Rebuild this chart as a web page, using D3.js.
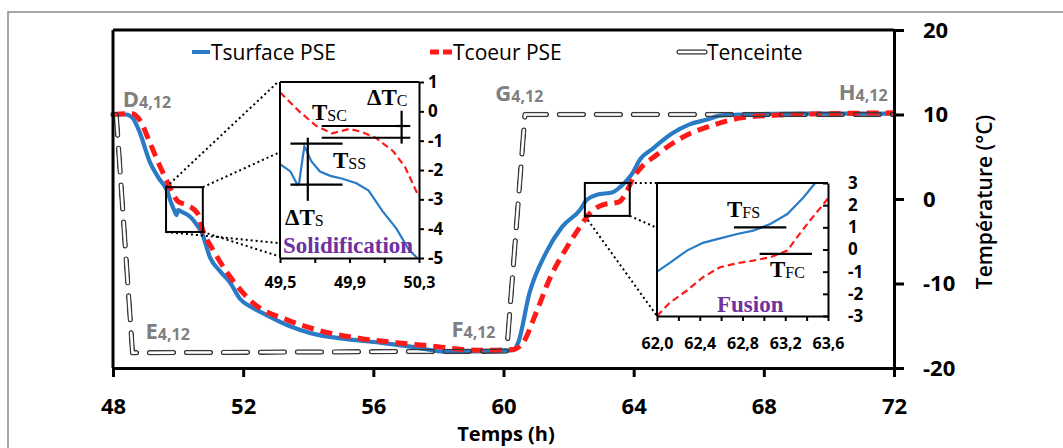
<!DOCTYPE html>
<html><head><meta charset="utf-8">
<script src="https://cdn.jsdelivr.net/npm/d3@7"></script>
<style>
body{margin:0;background:#fff;}
svg{display:block;}
</style></head>
<body>
<svg id="c" width="1063" height="448"></svg>
<script>
// ---- data ----
const surfH = [48.0,48.4,48.6,48.83,49.14,49.4,49.66,49.8,49.9,49.95,50.0,50.1,50.37,50.6,50.73,50.98,51.3,51.6,51.9,52.3,52.7,53.4,54.1,55.0,56.2,57.2,58.26,59.3,60.3,60.45,60.8,61.3,61.8,62.35,62.56,62.87,63.36,63.58,63.79,63.97,64.2,64.6,65.2,65.7,66.25,66.7,67.5,69,72];
const surfT = [10,10,9.6,7.8,4.3,2.5,1.0,-0.6,-1.5,-1.9,-1.3,-1.5,-2.1,-3.2,-4.0,-6.9,-8.6,-9.9,-11.8,-12.9,-13.7,-15.0,-15.9,-16.5,-17.0,-17.5,-18.1,-18.0,-17.9,-17.0,-11.1,-6.4,-3.3,-1.3,-0.1,0.5,0.8,1.4,2.2,3.1,4.7,6.0,7.8,8.8,9.4,9.9,10.0,10.1,10.1];
const coeurH = [48.0,48.4,48.6,48.83,49.14,49.5,49.75,50.0,50.27,50.6,50.76,51.07,51.6,52.3,53.35,54.7,55.6,56.7,57.8,58.75,59.5,60.3,60.6,61.0,61.4,61.95,62.35,62.65,63.05,63.55,63.8,64.0,64.2,64.7,65.2,65.7,66.25,67.3,68.3,70,72];
const coeurT = [10,10.1,10.1,9.3,6.6,3.4,1.4,-0.3,-0.7,-1.7,-3.7,-6.0,-9.2,-12.3,-14.3,-15.9,-16.5,-17.0,-17.4,-17.8,-17.9,-17.8,-17.0,-13.5,-9.6,-5.7,-3.3,-1.7,-0.7,-0.35,1.0,2.6,3.6,5.2,6.6,7.7,8.5,9.6,9.9,10.1,10.2];
const encH = [48.0,48.1,48.6,60.1,60.66,72];
const encT = [10,10,-18.2,-18.0,10,10];

// inset solidification
const sSurfH = [49.5,49.56,49.6,49.61,49.63,49.64,49.65,49.68,49.73,49.79,49.86,49.94,50.01,50.09,50.17,50.24,50.29];
const sSurfT = [-1.8,-2.05,-2.5,-2.45,-1.6,-1.2,-1.3,-1.7,-2.05,-2.2,-2.3,-2.45,-2.7,-3.4,-4.0,-4.7,-5.0];
const sCoeurH = [49.5,49.61,49.71,49.8,49.9,49.97,50.05,50.15,50.22,50.29];
const sCoeurT = [0.65,0.0,-0.5,-0.75,-0.6,-0.7,-0.9,-1.35,-1.9,-2.8];
// inset fusion
const fSurfH = [62.0,62.12,62.28,62.43,62.59,62.75,62.9,63.06,63.22,63.37,63.48];
const fSurfT = [-1.0,-0.6,-0.05,0.3,0.5,0.7,0.85,1.15,1.6,2.35,3.0];
const fCoeurH = [62.0,62.12,62.28,62.43,62.59,62.75,62.9,63.06,63.22,63.31,63.43,63.6];
const fCoeurT = [-3,-2.4,-1.85,-1.25,-0.8,-0.62,-0.5,-0.35,-0.05,0.55,1.3,2.3];

const xTicks = [48,52,56,60,64,68,72];
const yTicks = [-20,-10,0,10,20];
const sXTicks = [49.5,49.7,49.9,50.1,50.3];
const sXLabels = [49.5,49.9,50.3];
const sYTicks = [-5,-4,-3,-2,-1,0,1];
const fXTicks = [62.0,62.2,62.4,62.6,62.8,63.0,63.2,63.4,63.6];
const fXLabels = [62.0,62.4,62.8,63.2,63.6];
const fYTicks = [-3,-2,-1,0,1,2,3];
const seriesNames = ["Tsurface PSE","Tcoeur PSE","Tenceinte"];

// ---- drawing ----
const svg = d3.select("#c");
const SANS = "'Open Sans', 'DejaVu Sans', sans-serif";
const SERIF = "'Liberation Serif', 'Times New Roman', serif";
const BLUE = "#2a7bc6", RED = "#ff1a1a", PURPLE = "#7030a0", GRAY = "#7f7f7f";
const fmtC = d => d3.format(".1f")(d).replace(".", ",").replace("\u2212","-");
const fmtI = d => String(d);

svg.append("rect").attr("x",8).attr("y",12).attr("width",1100).attr("height",500)
  .attr("fill","none").attr("stroke","#8a8a8a").attr("stroke-width",1.5);

// Mask defs for double-line Tenceinte
const defs = svg.append("defs");
let maskId = 0;
function doubleLine(g, d, dash){
  const id = "m"+(maskId++);
  const m = defs.append("mask").attr("id",id).attr("maskUnits","userSpaceOnUse")
    .attr("x",0).attr("y",0).attr("width",1063).attr("height",448);
  m.append("path").attr("d",d).attr("fill","none").attr("stroke","#fff").attr("stroke-width",5.5)
    .attr("stroke-dasharray",dash).attr("stroke-linecap","round").attr("stroke-linejoin","round");
  m.append("path").attr("d",d).attr("fill","none").attr("stroke","#000").attr("stroke-width",2.6)
    .attr("stroke-dasharray",dash).attr("stroke-linecap","round").attr("stroke-linejoin","round");
  g.append("path").attr("d",d).attr("fill","none").attr("stroke","#3a3a3a").attr("stroke-width",5.5)
    .attr("stroke-dasharray",dash).attr("stroke-linecap","round").attr("stroke-linejoin","round")
    .attr("mask","url(#"+id+")");
}

const x = d3.scaleLinear().domain([48,72]).range([113,894]);
const y = d3.scaleLinear().domain([-20,20]).range([368,30]);

const zip = (a,b) => a.map((v,i)=>[v,b[i]]);
const lineMain = d3.line().x(d=>x(d[0])).y(d=>y(d[1])).curve(d3.curveMonotoneX);
const lineLin = d3.line().x(d=>x(d[0])).y(d=>y(d[1]));

// series
svg.append("path").attr("d",lineMain(zip(surfH,surfT))).attr("fill","none")
  .attr("stroke",BLUE).attr("stroke-width",4.2).attr("stroke-linejoin","round");
svg.append("path").attr("d",lineMain(zip(coeurH,coeurT))).attr("fill","none")
  .attr("stroke",RED).attr("stroke-width",5).attr("stroke-dasharray","12,7");
doubleLine(svg, lineLin(zip(encH,encT)), "24,13");

// frame
svg.append("line").attr("x1",x(48)).attr("x2",x(72)).attr("y1",y(20)).attr("y2",y(20))
  .attr("stroke","#000").attr("stroke-width",3);
svg.append("line").attr("x1",x(48)).attr("x2",x(48)).attr("y1",y(20)).attr("y2",y(-20))
  .attr("stroke","#000").attr("stroke-width",3);

const xa = svg.append("g").attr("transform",`translate(0,${y(-20)})`)
  .call(d3.axisBottom(x).tickValues(xTicks).tickSize(9).tickSizeOuter(0).tickFormat(fmtI));
xa.select(".domain").attr("stroke-width",3);
xa.selectAll(".tick line").attr("stroke-width",3);
xa.selectAll("text").attr("y",46).attr("dy",null).attr("font-family",SANS).attr("font-weight","bold")
  .attr("font-size",22).attr("fill","#000");

const ya = svg.append("g").attr("transform",`translate(${x(72)},0)`)
  .call(d3.axisRight(y).tickValues(yTicks).tickSize(10).tickSizeOuter(0).tickPadding(19).tickFormat(fmtI));
ya.select(".domain").attr("stroke-width",3);
ya.selectAll(".tick line").attr("stroke-width",3);
ya.selectAll("text").attr("font-family",SANS).attr("font-weight","bold").attr("font-size",22).attr("fill","#000");

svg.append("text").attr("x",506).attr("y",441).attr("text-anchor","middle")
  .attr("font-family",SANS).attr("font-weight","bold").attr("font-size",20).text("Temps (h)");
svg.append("text").attr("transform","translate(992,202) rotate(-90)").attr("text-anchor","middle")
  .attr("font-family",SANS).attr("font-weight",600).attr("font-size",21).text("Température (°C)");

// legend
const lg = svg.append("g");
lg.append("line").attr("x1",192).attr("x2",210).attr("y1",52).attr("y2",52).attr("stroke",BLUE).attr("stroke-width",4);
lg.append("text").attr("x",211).attr("y",60).attr("font-family",SANS).attr("font-size",21).text(seriesNames[0]);
lg.append("line").attr("x1",430).attr("x2",452).attr("y1",52).attr("y2",52).attr("stroke",RED).attr("stroke-width",5).attr("stroke-dasharray","9,4");
lg.append("text").attr("x",453).attr("y",60).attr("font-family",SANS).attr("font-size",21).text(seriesNames[1]);
doubleLine(lg, "M679,52L705,52", "26,10");
lg.append("text").attr("x",707).attr("y",60).attr("font-family",SANS).attr("font-size",21).text(seriesNames[2]);

// point labels
function ptLabel(letter, h, t){
  const tx = svg.append("text").attr("x",x(h)).attr("y",y(t)).attr("font-family",SANS)
    .attr("font-weight","bold").attr("fill",GRAY).attr("font-size",22);
  tx.append("tspan").text(letter);
  tx.append("tspan").attr("font-size",16).attr("dy",1).text("4,12");
}
ptLabel("D",48.3,10.85);
ptLabel("E",49.0,-16.6);
ptLabel("F",58.4,-16.3);
ptLabel("G",59.75,11.6);
ptLabel("H",70.3,11.7);

// zoom boxes on main chart
const boxS = {h0:49.63,h1:50.76,t0:-3.9,t1:1.4};
const boxF = {h0:62.5,h1:63.88,t0:-2.0,t1:1.9};
function drawBox(b){
  svg.append("rect").attr("x",x(b.h0)).attr("y",y(b.t1)).attr("width",x(b.h1)-x(b.h0))
    .attr("height",y(b.t0)-y(b.t1)).attr("fill","none").attr("stroke","#000").attr("stroke-width",2);
}
drawBox(boxS); drawBox(boxF);
function dotted(x1,y1,x2,y2){
  svg.append("line").attr("x1",x1).attr("y1",y1).attr("x2",x2).attr("y2",y2)
    .attr("stroke","#000").attr("stroke-width",2).attr("stroke-dasharray","2,3");
}

// ---- inset solidification ----
const sx = d3.scaleLinear().domain([49.5,50.3]).range([280,419]);
const sy = d3.scaleLinear().domain([-5,1]).range([258,82]);
dotted(x(boxS.h0),y(boxS.t1),sx(49.5)-2,sy(1));
dotted(x(boxS.h1),y(boxS.t1),sx(49.5)-2,153);
dotted(x(boxS.h0),y(boxS.t0),sx(49.5)-2,243);
dotted(x(boxS.h1),y(boxS.t0),sx(49.5)-2,256);

const si = svg.append("g");
si.append("rect").attr("x",sx(49.5)).attr("y",sy(1)).attr("width",sx(50.3)-sx(49.5)).attr("height",sy(-5)-sy(1)).attr("fill","#fff");
const sl = d3.line().x(d=>sx(d[0])).y(d=>sy(d[1]));
si.append("path").attr("d",sl(zip(sCoeurH,sCoeurT))).attr("fill","none").attr("stroke",RED).attr("stroke-width",2.2).attr("stroke-dasharray","7,4");
si.append("path").attr("d",sl(zip(sSurfH,sSurfT))).attr("fill","none").attr("stroke",BLUE).attr("stroke-width",2.2);
si.append("line").attr("x1",sx(49.5)).attr("x2",sx(50.3)).attr("y1",sy(1)).attr("y2",sy(1)).attr("stroke","#000").attr("stroke-width",2);
si.append("line").attr("x1",sx(49.5)).attr("x2",sx(49.5)).attr("y1",sy(1)).attr("y2",sy(-5)).attr("stroke","#000").attr("stroke-width",2);
const sxa = si.append("g").attr("transform",`translate(0,${sy(-5)})`)
  .call(d3.axisBottom(sx).tickValues(sXTicks).tickSize(5).tickSizeOuter(0).tickFormat(d=>sXLabels.some(v=>Math.abs(v-d)<1e-6)?fmtC(d):""));
sxa.select(".domain").attr("stroke-width",2);
sxa.selectAll(".tick line").attr("stroke-width",2);
sxa.selectAll("text").attr("y",30).attr("dy",null).attr("font-family",SANS).attr("font-weight","bold").attr("font-size",16).attr("fill","#000");
const sya = si.append("g").attr("transform",`translate(${sx(50.3)},0)`)
  .call(d3.axisRight(sy).tickValues(sYTicks).tickSize(5).tickSizeOuter(0).tickPadding(4).tickFormat(fmtI));
sya.select(".domain").attr("stroke-width",2);
sya.selectAll(".tick line").attr("stroke-width",2);
sya.selectAll("text").attr("font-family",SANS).attr("font-weight","bold").attr("font-size",17).attr("fill","#000");

function seg(g,x1,y1,x2,y2){ g.append("line").attr("x1",x1).attr("y1",y1).attr("x2",x2).attr("y2",y2).attr("stroke","#000").attr("stroke-width",2.2); }
// ΔTc
seg(si,sx(49.74),sy(-0.5),sx(50.25),sy(-0.5));
seg(si,sx(49.74),sy(-0.9),sx(50.25),sy(-0.9));
seg(si,sx(50.2),sy(0.02),sx(50.2),sy(-1.1));
seg(si,sx(50.17),sy(-0.5),sx(50.23),sy(-0.5));
// ΔTs
seg(si,sx(49.56),sy(-1.1),sx(49.86),sy(-1.1));
seg(si,sx(49.56),sy(-2.5),sx(49.86),sy(-2.5));
seg(si,sx(49.66),sy(-0.9),sx(49.66),sy(-3.05));

function tLabel(g,px,py,pre,sub){
  const t = g.append("text").attr("x",px).attr("y",py).attr("font-family",SERIF).attr("font-weight","bold").attr("font-size",23).attr("fill","#000");
  t.append("tspan").text(pre);
  t.append("tspan").attr("font-size",16).attr("font-weight","normal").attr("dy",1).text(sub);
}
tLabel(si,312,120,"T","SC");
tLabel(si,367,105,"ΔT","C");
tLabel(si,333,168,"T","SS");
tLabel(si,285,225,"ΔT","S");
si.append("text").attr("x",283).attr("y",253).attr("font-family",SERIF).attr("font-weight","bold")
  .attr("font-size",23).attr("fill",PURPLE).attr("textLength",130).text("Solidification");

// ---- inset fusion ----
const fx = d3.scaleLinear().domain([62.0,63.6]).range([657,828]);
const fy = d3.scaleLinear().domain([-3,3]).range([316,183]);
dotted(x(boxF.h1),y(boxF.t1),fx(62),fy(3));
dotted(x(boxF.h1),y(boxF.t0),fx(62)-2,227);
dotted(x(boxF.h0),y(boxF.t0),fx(62),fy(-3));

const fi = svg.append("g");
fi.append("rect").attr("x",fx(62)).attr("y",fy(3)).attr("width",fx(63.6)-fx(62)).attr("height",fy(-3)-fy(3)).attr("fill","#fff");
const fl = d3.line().x(d=>fx(d[0])).y(d=>fy(d[1]));
fi.append("path").attr("d",fl(zip(fCoeurH,fCoeurT))).attr("fill","none").attr("stroke",RED).attr("stroke-width",2.2).attr("stroke-dasharray","7,4");
fi.append("path").attr("d",fl(zip(fSurfH,fSurfT))).attr("fill","none").attr("stroke",BLUE).attr("stroke-width",2.2);
fi.append("line").attr("x1",fx(62)).attr("x2",fx(63.6)).attr("y1",fy(3)).attr("y2",fy(3)).attr("stroke","#000").attr("stroke-width",2);
fi.append("line").attr("x1",fx(62)).attr("x2",fx(62)).attr("y1",fy(3)).attr("y2",fy(-3)).attr("stroke","#000").attr("stroke-width",2);
const fxa = fi.append("g").attr("transform",`translate(0,${fy(-3)})`)
  .call(d3.axisBottom(fx).tickValues(fXTicks).tickSize(5).tickSizeOuter(0).tickFormat(d=>fXLabels.some(v=>Math.abs(v-d)<1e-6)?fmtC(d):""));
fxa.select(".domain").attr("stroke-width",2);
fxa.selectAll(".tick line").attr("stroke-width",2);
fxa.selectAll("text").attr("y",33).attr("dy",null).attr("font-family",SANS).attr("font-weight","bold").attr("font-size",16).attr("fill","#000");
const fya = fi.append("g").attr("transform",`translate(${fx(63.6)},0)`)
  .call(d3.axisRight(fy).tickValues(fYTicks).tickSize(-5).tickSizeOuter(0).tickPadding(20).tickFormat(fmtI));
fya.select(".domain").attr("stroke-width",2);
fya.selectAll(".tick line").attr("stroke-width",2);
fya.selectAll("text").attr("font-family",SANS).attr("font-weight","bold").attr("font-size",17).attr("fill","#000");

seg(fi,fx(62.72),fy(1),fx(63.21),fy(1));
seg(fi,fx(62.96),fy(-0.2),fx(63.45),fy(-0.2));
tLabel(fi,727,217,"T","FS");
tLabel(fi,770,277,"T","FC");
fi.append("text").attr("x",717).attr("y",312).attr("font-family",SERIF).attr("font-weight","bold")
  .attr("font-size",23).attr("fill",PURPLE).text("Fusion");
</script>
</body></html>
